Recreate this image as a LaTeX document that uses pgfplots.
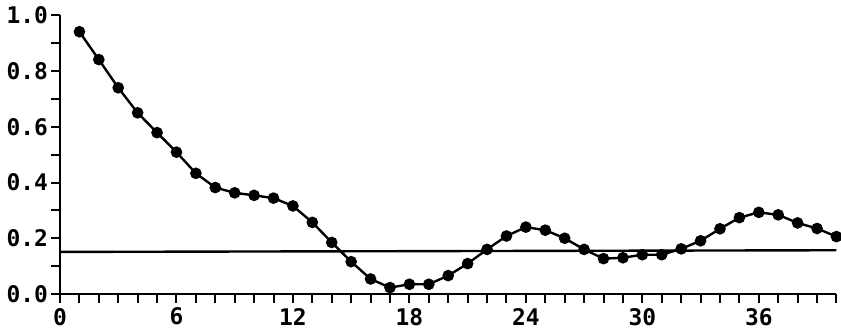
\documentclass[border=0pt]{standalone}
\usepackage{pgfplots}
\pgfplotsset{compat=1.18}
\usepackage{fontspec}
\setmainfont{DejaVu Sans Mono}
\begin{document}
\begin{tikzpicture}
\begin{axis}[
  scale only axis,
  width=390pt, height=140pt,
  xmin=0, xmax=40, ymin=0, ymax=1,
  axis x line=bottom, axis y line=left,
  axis line style={-, line width=1.2pt},
  xtick={0,6,...,36}, minor xtick={0,1,...,40},
  ytick={0,0.2,...,1.0}, minor ytick={0,0.1,...,1.0},
  tick align=outside,
  major tick length=4.5pt, minor tick length=4.5pt,
  every tick/.style={line width=1pt, black},
  every minor tick/.style={line width=1pt, black},
  tick label style={font=\fontsize{11.5}{12}\selectfont\bfseries},
  /pgf/number format/assume math mode=true,
  yticklabel style={xshift=2pt, /pgf/number format/.cd, fixed, fixed zerofill, precision=1},
  xticklabel style={yshift=1pt},
  clip=false,
]
\addplot[black, line width=1.2pt, mark=*, mark size=2.3pt, mark options={fill=black}]
coordinates {
(1,0.941)(2,0.841)(3,0.740)(4,0.650)(5,0.579)(6,0.509)(7,0.433)(8,0.382)
(9,0.363)(10,0.354)(11,0.344)(12,0.316)(13,0.257)(14,0.185)(15,0.116)
(16,0.054)(17,0.023)(18,0.035)(19,0.035)(20,0.066)(21,0.109)(22,0.160)
(23,0.208)(24,0.240)(25,0.229)(26,0.200)(27,0.160)(28,0.127)(29,0.130)
(30,0.141)(31,0.141)(32,0.162)(33,0.191)(34,0.234)(35,0.274)(36,0.293)
(37,0.284)(38,0.255)(39,0.235)(40,0.206)
};
\addplot[black, line width=1.2pt] coordinates {(0,0.151)(40,0.157)};
\end{axis}
\end{tikzpicture}
\end{document}
